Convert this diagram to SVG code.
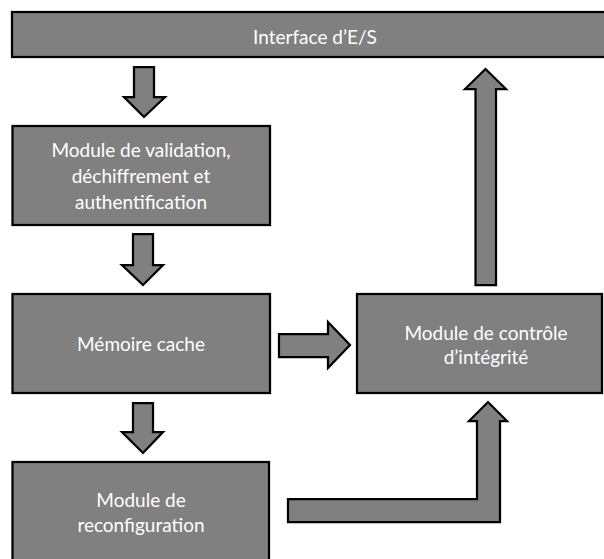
<svg xmlns="http://www.w3.org/2000/svg" width="604" height="559" viewBox="0 0 604 559">
<style>
.box{fill:#808080;stroke:#000;stroke-width:2.25}
.arr{fill:#808080;stroke:#000;stroke-width:2.25;stroke-linejoin:miter}
.t{font-family:Lato,"Liberation Sans",sans-serif;font-size:19px;fill:#fff;text-anchor:middle}
</style>
<rect width="604" height="559" fill="#fff"/>
<g id="io">
<rect class="box" x="12" y="12" width="620" height="45"/>
<text class="t" x="315" y="44">Interface d’E/S</text>
</g>
<g id="validation">
<rect class="box" x="12.5" y="126" width="257.5" height="99"/>
<text class="t" x="141" y="157">Module de validation,</text>
<text class="t" x="141" y="183">déchiffrement et</text>
<text class="t" x="141" y="209">authentification</text>
</g>
<g id="cache">
<rect class="box" x="12.5" y="294" width="257.5" height="99"/>
<text class="t" x="141" y="351">Mémoire cache</text>
</g>
<g id="integrity">
<rect class="box" x="357" y="294" width="245" height="99"/>
<text class="t" x="486" y="340">Module de contrôle</text>
<text class="t" x="486" y="364">d’intégrité</text>
</g>
<g id="reconfig">
<rect class="box" x="12.5" y="462" width="256.5" height="120"/>
<text class="t" x="141" y="507">Module de</text>
<text class="t" x="141" y="532">reconfiguration</text>
</g>
<g id="connectors">
<polygon class="arr" points="134,67 154,67 154,97 165,97 144,117 124,97 134,97"/>
<polygon class="arr" points="133,234 153,234 153,265 163,265 143,285 122,265 133,265"/>
<polygon class="arr" points="133,403 153,403 153,432 163,432 143,453 122,432 133,432"/>
<polygon class="arr" points="279,334 328,334 328,322 350,345 328,368 328,357 279,357"/>
<polygon class="arr" points="475.5,285 475.5,89 465,89 485.5,69 506,89 496,89 496,285"/>
<polygon class="arr" points="288,499 477,499 477,421 469,421 488,402 507,421 500,421 500,522 288,522"/>
</g>
</svg>
